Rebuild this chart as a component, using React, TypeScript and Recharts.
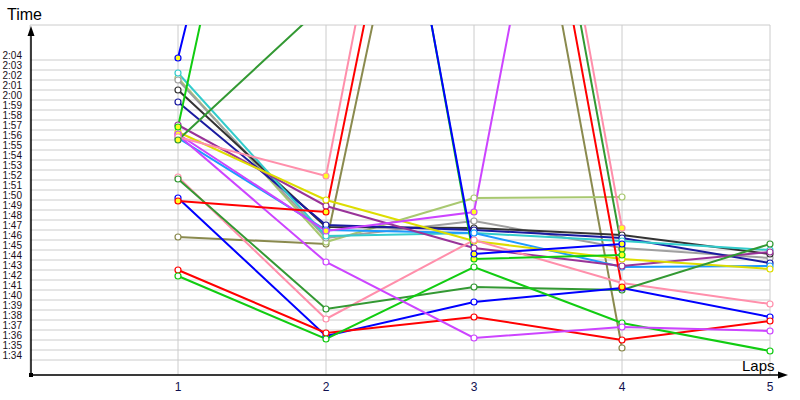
import { LineChart, Line, XAxis, YAxis, CartesianGrid } from 'recharts';

// lap times in seconds, one list per car (null = lap not done)
const LAPS = [1, 2, 3, 4, 5];
const TIME_TICKS = Array.from({ length: 31 }, (_, i) => 94 + i);

const KEYS = [
  'olive', 'ygreen', 'gray', 'dgray', 'navy', 'cyan', 'dodger', 'purple', 'yellow',
  'pink2', 'dgreen2', 'blue2', 'red2', 'lime2', 'magenta2',
  'magenta1', 'pink1', 'red1', 'dgreen1', 'lime1', 'blue1',
];

const COLORS = [
  '#8a8a4e', '#a8c870', '#a0a0a0', '#333333', '#1a1aa0', '#33cccc', '#1e9bff', '#993399', '#dddd00',
  '#ff8fab', '#339933', '#0000ff', '#ff0000', '#11cc11', '#cc44ff',
  '#cc44ff', '#ff8fab', '#ff0000', '#339933', '#11cc11', '#0000ff',
];

const TIMES: (number | null)[][] = [
  [106.3, 105.6, 175.3, 95.2, null],
  [122.2, 105.8, 110.2, 110.3, null],
  [122.0, 106.2, 107.9, 105.2, 104.2],
  [121.0, 107.3, 107.2, 106.5, 104.6],
  [119.8, 107.5, 107.0, 106.2, 103.7],
  [122.7, 106.4, 106.7, 105.9, 105.0],
  [116.2, 107.0, 106.7, 103.3, 103.4],
  [117.5, 109.4, 105.2, 103.4, 104.8],
  [116.8, 110.0, 105.9, 104.1, 103.1],
  [112.3, 98.1, 106.0, 101.7, 99.6],
  [112.1, 99.1, 101.3, 101.0, 105.6],
  [110.2, 96.4, 99.8, 101.2, 98.3],
  [103.0, 96.7, 98.3, 96.0, 97.9],
  [102.4, 96.1, 103.3, 97.7, 94.9],
  [116.5, 103.8, 96.2, 97.3, 96.9],
  [116.6, 106.9, 108.8, 186.0, null],
  [116.3, 112.4, 188.2, 107.2, null],
  [109.9, 108.8, 181.5, 101.3, null],
  [116.0, 129.7, 185.5, 105.1, null],
  [117.3, 185.7, 104.1, 104.5, null],
  [124.2, 184.5, 104.6, 105.6, null],
];

// laps marked with a yellow dot
const PIT_LAPS: number[][] = [
  [], [], [], [], [], [], [], [], [],
  [], [], [], [], [], [],
  [1, 2, 3], [2, 4], [1, 2, 4], [1, 4], [1, 3, 4], [1, 3, 4],
];

const data = LAPS.map((lap, i) => {
  const row: Record<string, number | null> = { lap };
  KEYS.forEach((k, s) => { row[k] = TIMES[s][i]; });
  return row;
});

const fmt = (v: number) => `${Math.floor(v / 60)}:${String(v % 60).padStart(2, '0')}`;

const makeDot = (color: string, pits: number[], key: string) => (props: any) => {
  const { cx, cy, index, payload, value } = props;
  if (cx == null || cy == null || value == null) return <g key={`${key}-${index}`} />;
  const filled = pits.includes(payload.lap);
  return (
    <circle key={`${key}-${index}`} cx={cx} cy={cy} r={3} fill={filled ? '#ffff22' : '#ffffff'}
      stroke={color} strokeWidth={1.2} />
  );
};

const FONT = "'Liberation Sans Narrow', 'Liberation Sans', Arial, sans-serif";

const YTick = ({ x, y, payload }: any) => (
  <text x={x} y={y - 1} textAnchor="end" fontSize={10} fontFamily={FONT} fill="#1a1020">
    {fmt(payload.value)}
  </text>
);

const XTick = ({ x, y, payload }: any) => (
  <text x={x} y={y + 16} textAnchor="middle" fontSize={12} fontFamily={FONT} fill="#101050">
    {payload.value}
  </text>
);

export default function App() {
  return (
    <div style={{ position: 'absolute', left: 0, top: 0, width: 800, height: 400, background: '#fff' }}>
      <LineChart width={800} height={400} data={data} margin={{ top: 25, right: 30, bottom: 0, left: 0 }}>
        <CartesianGrid stroke="#cccccc" strokeWidth={1} />
        <XAxis dataKey="lap" type="number" domain={[0, 5]} ticks={LAPS} height={25}
          axisLine={false} tickLine={false} tickSize={0} tickMargin={0} tick={<XTick />} />
        <YAxis type="number" domain={[92.5, 127.5]} ticks={TIME_TICKS} allowDataOverflow width={30}
          axisLine={false} tickLine={false} tickSize={0} tickMargin={8} interval={0} tick={<YTick />} />
        {KEYS.map((k, s) => (
          <Line key={k} dataKey={k} stroke={COLORS[s]} strokeWidth={2} isAnimationActive={false}
            dot={makeDot(COLORS[s], PIT_LAPS[s], k)} activeDot={false} connectNulls={false} />
        ))}
      </LineChart>
      <svg width={800} height={400} style={{ position: 'absolute', left: 0, top: 0, pointerEvents: 'none' }}>
        <text x={7} y={20} fontSize={16} fontFamily="'Liberation Sans', Arial, sans-serif" fill="#000">Time</text>
        <text x={742} y={371} fontSize={15} fontFamily="'Liberation Sans', Arial, sans-serif" fill="#000">Laps</text>
        <line x1={31} y1={34} x2={31} y2={375} stroke="#000" strokeWidth={1.5} />
        <polygon points="31,26 27.5,36 34.5,36" fill="#000" />
        <line x1={31} y1={375} x2={780} y2={375} stroke="#000" strokeWidth={1.5} />
        <polygon points="788,375 778,371.5 778,378.5" fill="#000" />
        <rect x={29} y={373} width={4} height={4} fill="#000" />
      </svg>
    </div>
  );
}
